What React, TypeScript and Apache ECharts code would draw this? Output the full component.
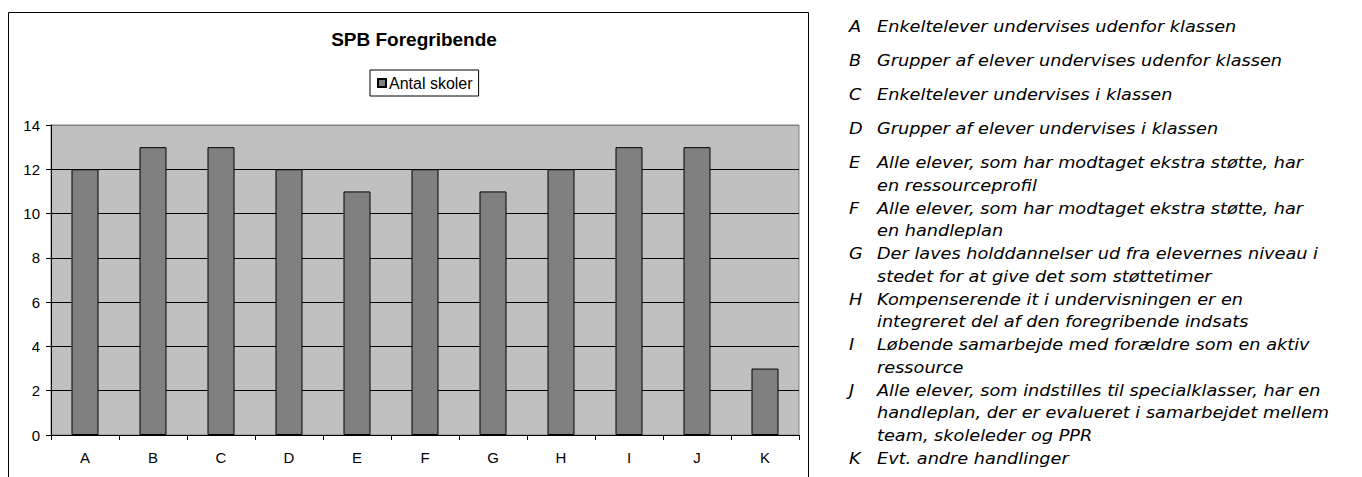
import React, { useEffect, useRef } from "react";
import * as echarts from "echarts";

const categories = ["A", "B", "C", "D", "E", "F", "G", "H", "I", "J", "K"];
const antalSkoler = [12, 13, 13, 12, 11, 12, 11, 12, 13, 13, 3];
const seriesName = "Antal skoler";
const chartTitle = "SPB Foregribende";

const descriptions: { key: string; lines: string[] }[] = [
  { key: "A", lines: ["Enkeltelever undervises udenfor klassen"] },
  { key: "B", lines: ["Grupper af elever undervises udenfor klassen"] },
  { key: "C", lines: ["Enkeltelever undervises i klassen"] },
  { key: "D", lines: ["Grupper af elever undervises i klassen"] },
  { key: "E", lines: ["Alle elever, som har modtaget ekstra støtte, har", "en ressourceprofil"] },
  { key: "F", lines: ["Alle elever, som har modtaget ekstra støtte, har", "en handleplan"] },
  { key: "G", lines: ["Der laves holddannelser ud fra elevernes niveau i", "stedet for at give det som støttetimer"] },
  { key: "H", lines: ["Kompenserende it i undervisningen er en", "integreret del af den foregribende indsats"] },
  { key: "I", lines: ["Løbende samarbejde med forældre som en aktiv", "ressource"] },
  { key: "J", lines: ["Alle elever, som indstilles til specialklasser, har en", "handleplan, der er evalueret i samarbejdet mellem", "team, skoleleder og PPR"] },
  { key: "K", lines: ["Evt. andre handlinger"] },
];

const ARIAL = "Arial, 'Liberation Sans', sans-serif";
const VERDANA = "Verdana, 'DejaVu Sans', sans-serif";

function buildDescriptionGraphics() {
  const els: any[] = [];
  const letterX = 849;
  const textX = 877;
  const sx = 1.18;
  let lineIdx = 0;
  descriptions.forEach((d, i) => {
    d.lines.forEach((line, j) => {
      let y: number;
      if (i < 4) {
        y = 27 + i * 34;
      } else {
        y = 163 + lineIdx * 22.77;
        lineIdx++;
      }
      if (j === 0) {
        els.push({
          type: "text",
          x: letterX,
          y,
          scaleX: sx,
          style: {
            text: d.key,
            font: `italic 15px ${VERDANA}`,
            fill: "#000",
            verticalAlign: "middle",
          },
        });
      }
      els.push({
        type: "text",
        x: textX,
        y,
        scaleX: sx,
        style: {
          text: line,
          font: `italic 15px ${VERDANA}`,
          fill: "#000",
          verticalAlign: "middle",
        },
      });
    });
  });
  return els;
}

export default function App() {
  const ref = useRef<HTMLDivElement>(null);
  useEffect(() => {
    if (!ref.current) return;
    const chart = echarts.init(ref.current, undefined, { renderer: "svg" });
    chart.setOption({
      animation: false,
      backgroundColor: "#fff",
      title: {
        text: chartTitle,
        left: 409,
        top: 25,
        textAlign: "center",
        textStyle: { fontFamily: ARIAL, fontSize: 19, fontWeight: "bold", color: "#000" },
      },
      legend: {
        data: [seriesName],
        left: 370,
        top: 70,
        orient: "horizontal",
        icon: "rect",
        itemWidth: 8,
        itemHeight: 8,
        padding: [5, 6, 5, 7],
        borderColor: "#000",
        borderWidth: 1,
        backgroundColor: "#fff",
        textStyle: { fontFamily: ARIAL, fontSize: 16, color: "#000", padding: [0, 0, 0, -2] },
      },
      grid: {
        left: 51,
        right: 563,
        top: 125,
        bottom: 42,
        show: true,
        backgroundColor: "#c0c0c0",
        borderColor: "#808080",
        borderWidth: 1,
        containLabel: false,
      },
      xAxis: {
        type: "category",
        data: categories,
        axisLine: { show: true, lineStyle: { color: "#000", width: 1 } },
        axisTick: { show: true, inside: false, length: 5, alignWithLabel: false, lineStyle: { color: "#000" } },
        axisLabel: { fontFamily: ARIAL, fontSize: 15, color: "#000", margin: 15, interval: 0 },
        splitLine: { show: false },
      },
      yAxis: {
        type: "value",
        min: 0,
        max: 14,
        interval: 2,
        axisLine: { show: true, lineStyle: { color: "#000", width: 1 } },
        axisTick: { show: true, inside: false, length: 5, lineStyle: { color: "#000" } },
        axisLabel: { fontFamily: ARIAL, fontSize: 15, color: "#000", margin: 11 },
        splitLine: {
          show: true,
          lineStyle: {
            color: ["#000", "#000", "#000", "#000", "#000", "#000", "#000", "#808080"],
            width: 1,
          },
        },
      },
      series: [
        {
          name: seriesName,
          type: "bar",
          data: antalSkoler,
          barWidth: 27,
          itemStyle: { color: "#808080", borderColor: "#000", borderWidth: 1 },
        },
      ],
      graphic: [
        {
          type: "rect",
          shape: { x: 8.5, y: 12.5, width: 800, height: 500 },
          style: { fill: "none", stroke: "#000", lineWidth: 1 },
          silent: true,
          z: 100,
        },
        ...buildDescriptionGraphics(),
      ],
    });
    return () => chart.dispose();
  }, []);
  return (
    <div
      ref={ref}
      style={{ position: "absolute", left: 0, top: 0, width: 1362, height: 477 }}
    />
  );
}
